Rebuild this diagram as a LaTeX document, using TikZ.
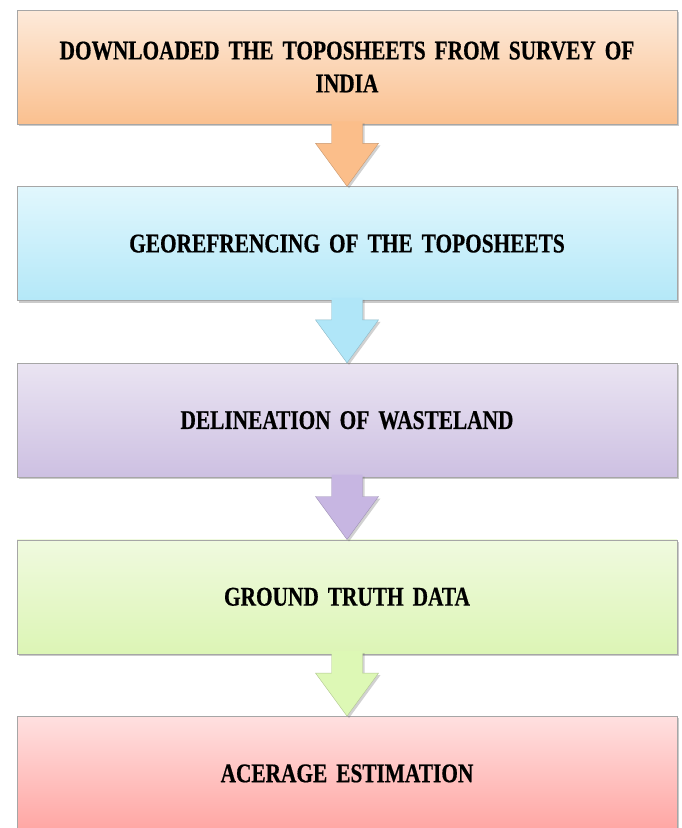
\documentclass[tikz,border=0pt]{standalone}
\usepackage{fontspec}
\setmainfont{Liberation Serif}
\newfontfamily\stepfont[FakeStretch=0.79, WordSpace=0.5, BoldFeatures={FakeBold=0.5}]{Liberation Serif}
\usetikzlibrary{positioning,shadows,calc}
\definecolor{peachtop}{HTML}{FDEADA}
\definecolor{peachbot}{HTML}{FAC08F}
\definecolor{peacharr}{HTML}{FBBE8A}
\definecolor{cyantop}{HTML}{E1F7FD}
\definecolor{cyanbot}{HTML}{B4E8F8}
\definecolor{cyanarr}{HTML}{B0E6F8}
\definecolor{lilactop}{HTML}{EAE4F2}
\definecolor{lilacbot}{HTML}{CDC0E2}
\definecolor{lilacarr}{HTML}{C7B6E2}
\definecolor{greentop}{HTML}{F0FADF}
\definecolor{greenbot}{HTML}{DCF5B5}
\definecolor{greenarr}{HTML}{DDF8B5}
\definecolor{rosetop}{HTML}{FFE0E0}
\definecolor{rosebot}{HTML}{FFA6A3}
\tikzset{
  stepbox/.style={rectangle, draw=gray!70, line width=0.6pt,
    minimum width=660pt, minimum height=114pt, inner sep=0pt,
    text width=640pt, align=center,
    font=\stepfont\bfseries\fontsize{27}{33}\selectfont,
    drop shadow={shadow xshift=2pt, shadow yshift=-2pt, opacity=0.35, fill=black!60}},
  arrowshadow/.style={drop shadow={shadow xshift=2pt, shadow yshift=-2pt, opacity=0.3, fill=black!60}}
}
\newcommand{\blockarrow}[3]{%
  \fill[#3, arrowshadow]
    ($(#1.south)+(-15.5,3)$) -- ($(#1.south)+(-15.5,-19)$) -- ($(#1.south)+(-31.5,-19)$)
    -- (#2.north) -- ($(#1.south)+(31.5,-19)$) -- ($(#1.south)+(15.5,-19)$)
    -- ($(#1.south)+(15.5,3)$) -- cycle;
  \draw[#3!80!black, line width=0.4pt]
    ($(#1.south)+(-15.5,0)$) -- ($(#1.south)+(-15.5,-19)$) -- ($(#1.south)+(-31.5,-19)$)
    -- (#2.north) -- ($(#1.south)+(31.5,-19)$) -- ($(#1.south)+(15.5,-19)$)
    -- ($(#1.south)+(15.5,0)$);}
\begin{document}
\begin{tikzpicture}[x=1pt, y=1pt]
\useasboundingbox (0,0) rectangle (681,-828);
\node[stepbox, top color=peachtop, bottom color=peachbot] (download) at (347,-67)
  {DOWNLOADED THE TOPOSHEETS FROM SURVEY OF\\ INDIA};
\node[stepbox, top color=cyantop, bottom color=cyanbot, below=62pt of download] (georef)
  {GEOREFRENCING OF THE TOPOSHEETS};
\node[stepbox, top color=lilactop, bottom color=lilacbot, below=62pt of georef] (delin)
  {DELINEATION OF WASTELAND};
\node[stepbox, top color=greentop, bottom color=greenbot, below=62pt of delin] (ground)
  {GROUND TRUTH DATA};
\node[stepbox, top color=rosetop, bottom color=rosebot, below=62pt of ground] (acreage)
  {ACERAGE ESTIMATION};
\blockarrow{download}{georef}{peacharr}
\blockarrow{georef}{delin}{cyanarr}
\blockarrow{delin}{ground}{lilacarr}
\blockarrow{ground}{acreage}{greenarr}
\end{tikzpicture}
\end{document}
